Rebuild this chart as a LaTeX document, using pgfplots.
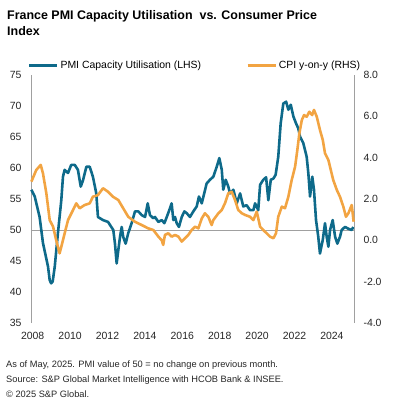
\documentclass[border=0pt]{standalone}
\usepackage{pgfplots}
\pgfplotsset{compat=1.18}
\usepackage{fontspec}
\setmainfont{Liberation Sans}
\definecolor{pmiteal}{RGB}{14,106,138}
\definecolor{cpiorange}{RGB}{242,164,66}
\definecolor{axgray}{RGB}{160,160,160}
\begin{document}
\begin{tikzpicture}[x=1bp,y=1bp]
\useasboundingbox (-31,-78) rectangle (362,323);
\node[anchor=base west,inner sep=0pt,font=\fontsize{12.5}{14}\selectfont\bfseries] at (-24,304) {France PMI Capacity Utilisation\ \ vs. Consumer Price};
\node[anchor=base west,inner sep=0pt,font=\fontsize{12.5}{14}\selectfont\bfseries] at (-24,287.3) {Index};
\begin{axis}[
  at={(0,0)}, anchor=south west,
  width=323bp, height=248bp, scale only axis,
  xmin=2007.91, xmax=2025.18, ymin=35, ymax=75,
  axis lines*=left,
  x axis line style={draw=none},
  y axis line style={-, draw=axgray, line width=0.8pt},
  xtick={2008,2010,...,2024},
  ytick={35,40,...,75},
  major tick length=0pt,
  /pgf/number format/assume math mode=true,
  /pgf/number format/1000 sep={},
  tick label style={font=\fontsize{10.5}{12}\selectfont, text=black!85},
  xticklabel style={yshift=-6bp},
  yticklabel style={xshift=-6bp},
  legend columns=2,
  legend style={draw=none, fill=none, at={(-0.01,1.0)}, anchor=south west, yshift=3bp,
    font=\fontsize{10.5}{12}\selectfont, inner sep=0pt,
    /tikz/every even column/.append style={column sep=43bp}},
  legend image code/.code={\draw[#1] (0bp,0bp) -- (28bp,0bp);},
  clip=false,
]
\addplot[axgray, line width=0.8pt, forget plot] coordinates {(2007.91,50) (2025.18,50)};
\addplot[pmiteal, line width=2.6pt, line join=round] coordinates {
(2007.93,56.5) (2008.11,55.4) (2008.37,52.1) (2008.55,47.9) (2008.82,44.1) (2008.91,41.9) (2008.99,41.4) (2009.07,41.7) (2009.18,44.1) (2009.35,49.5) (2009.53,54.8) (2009.62,58.6) (2009.71,59.7) (2009.89,59.2) (2010.06,60.5) (2010.25,60.5) (2010.42,59.7) (2010.57,57.0) (2010.69,58.0) (2010.87,60.2) (2011.05,60.2) (2011.22,58.6) (2011.40,55.9) (2011.49,52.1) (2011.76,51.6) (2012.03,51.3) (2012.31,50.0) (2012.40,47.8) (2012.49,44.6) (2012.58,46.8) (2012.67,48.9) (2012.76,50.5) (2012.84,48.9) (2012.97,47.8) (2013.11,49.5) (2013.29,51.1) (2013.47,53.0) (2013.65,53.0) (2013.83,52.4) (2014.01,52.1) (2014.15,54.3) (2014.27,52.4) (2014.45,51.9) (2014.54,52.1) (2014.72,51.3) (2014.90,51.6) (2015.04,51.1) (2015.17,52.1) (2015.34,53.5) (2015.43,54.3) (2015.52,51.6) (2015.61,52.1) (2015.70,51.1) (2015.82,50.5) (2015.97,52.1) (2016.11,53.0) (2016.24,52.7) (2016.41,52.1) (2016.59,53.0) (2016.77,53.8) (2016.89,55.4) (2017.04,54.3) (2017.18,56.0) (2017.30,57.5) (2017.48,58.1) (2017.66,58.6) (2017.84,60.2) (2017.98,61.6) (2018.11,59.7) (2018.19,56.5) (2018.32,58.1) (2018.46,57.0) (2018.55,55.9) (2018.73,56.5) (2018.91,54.3) (2019.09,55.9) (2019.26,53.8) (2019.44,54.0) (2019.62,53.2) (2019.80,53.2) (2019.89,54.3) (2020.06,53.2) (2020.16,57.3) (2020.33,58.1) (2020.48,58.5) (2020.60,54.8) (2020.73,58.1) (2020.87,58.3) (2020.99,58.9) (2021.13,61.8) (2021.26,67.2) (2021.40,70.4) (2021.55,70.7) (2021.67,69.4) (2021.80,70.2) (2021.94,68.3) (2022.08,67.2) (2022.20,66.4) (2022.29,65.1) (2022.47,64.0) (2022.65,61.8) (2022.74,59.1) (2022.83,55.4) (2022.95,58.6) (2023.04,56.5) (2023.15,51.6) (2023.27,48.9) (2023.36,46.2) (2023.51,48.4) (2023.63,51.1) (2023.72,48.9) (2023.81,47.3) (2023.90,50.0) (2024.04,51.6) (2024.17,48.9) (2024.29,47.8) (2024.43,48.9) (2024.52,50.0) (2024.70,50.5) (2024.88,50.2) (2025.06,50.0) (2025.14,50.5)
};
\addlegendentry{PMI Capacity Utilisation (LHS)}
\addlegendimage{cpiorange, line width=2.6pt}
\addlegendentry{CPI y-on-y (RHS)}
\end{axis}
\begin{axis}[
  at={(0,0)}, anchor=south west,
  width=323bp, height=248bp, scale only axis,
  xmin=2007.91, xmax=2025.18, ymin=-4, ymax=8,
  axis x line=none,
  axis y line*=right,
  y axis line style={-, draw=axgray, line width=0.8pt},
  ytick={-4,-2,...,8},
  major tick length=0pt,
  /pgf/number format/assume math mode=true,
  yticklabel={\pgfmathprintnumber[fixed,fixed zerofill,precision=1]{\tick}},
  tick label style={font=\fontsize{10.5}{12}\selectfont, text=black!85},
  yticklabel style={xshift=6bp},
  clip=false,
]
\addplot[cpiorange, line width=2.6pt, line join=round] coordinates {
(2007.93,2.84) (2008.19,3.40) (2008.43,3.65) (2008.55,3.24) (2008.73,2.28) (2008.91,0.98) (2009.09,0.66) (2009.26,0.0) (2009.44,-0.63) (2009.53,-0.31) (2009.71,0.34) (2009.89,0.98) (2010.16,1.47) (2010.33,1.79) (2010.51,1.55) (2010.78,1.71) (2011.05,1.79) (2011.22,2.11) (2011.49,2.19) (2011.76,2.52) (2012.03,2.35) (2012.29,2.11) (2012.58,1.95) (2012.84,1.55) (2013.11,1.14) (2013.47,0.90) (2013.83,0.74) (2014.18,0.58) (2014.45,0.50) (2014.72,0.18) (2014.90,0.0) (2014.98,-0.22) (2015.07,0.26) (2015.25,0.34) (2015.43,0.18) (2015.61,0.26) (2015.79,0.18) (2015.97,-0.06) (2016.14,0.10) (2016.32,0.26) (2016.50,0.50) (2016.68,0.66) (2016.86,0.58) (2017.04,1.06) (2017.21,1.31) (2017.39,1.14) (2017.57,0.74) (2017.66,0.98) (2017.93,1.31) (2018.11,1.47) (2018.28,1.79) (2018.46,2.28) (2018.64,2.35) (2018.82,1.95) (2018.99,1.47) (2019.18,1.31) (2019.35,1.23) (2019.62,1.14) (2019.80,0.98) (2019.98,1.39) (2020.16,0.66) (2020.33,0.50) (2020.51,0.34) (2020.69,0.18) (2020.87,0.10) (2021.01,0.34) (2021.13,1.14) (2021.32,1.63) (2021.49,1.55) (2021.67,2.11) (2021.85,2.92) (2022.03,3.56) (2022.15,4.37) (2022.26,5.18) (2022.39,5.82) (2022.51,6.06) (2022.65,5.98) (2022.79,6.22) (2022.94,6.06) (2023.04,6.31) (2023.19,5.98) (2023.36,5.34) (2023.51,4.86) (2023.63,4.21) (2023.81,3.89) (2023.94,3.40) (2024.07,2.92) (2024.26,2.44) (2024.43,2.11) (2024.61,1.63) (2024.75,1.14) (2024.88,1.31) (2025.06,1.71) (2025.16,0.90)
};
\end{axis}
\node[anchor=base west,inner sep=0pt,font=\fontsize{9.3}{11}\selectfont,text=black!85] at (-25,-44.7) {As of May, 2025. PMI value of 50 = no change on previous month.};
\node[anchor=base west,inner sep=0pt,font=\fontsize{9.3}{11}\selectfont,text=black!85] at (-25,-59.7) {Source: S\&P Global Market Intelligence with HCOB Bank \& INSEE.};
\node[anchor=base west,inner sep=0pt,font=\fontsize{9.3}{11}\selectfont,text=black!85] at (-25,-74.3) {© 2025 S\&P Global.};
\end{tikzpicture}
\end{document}
